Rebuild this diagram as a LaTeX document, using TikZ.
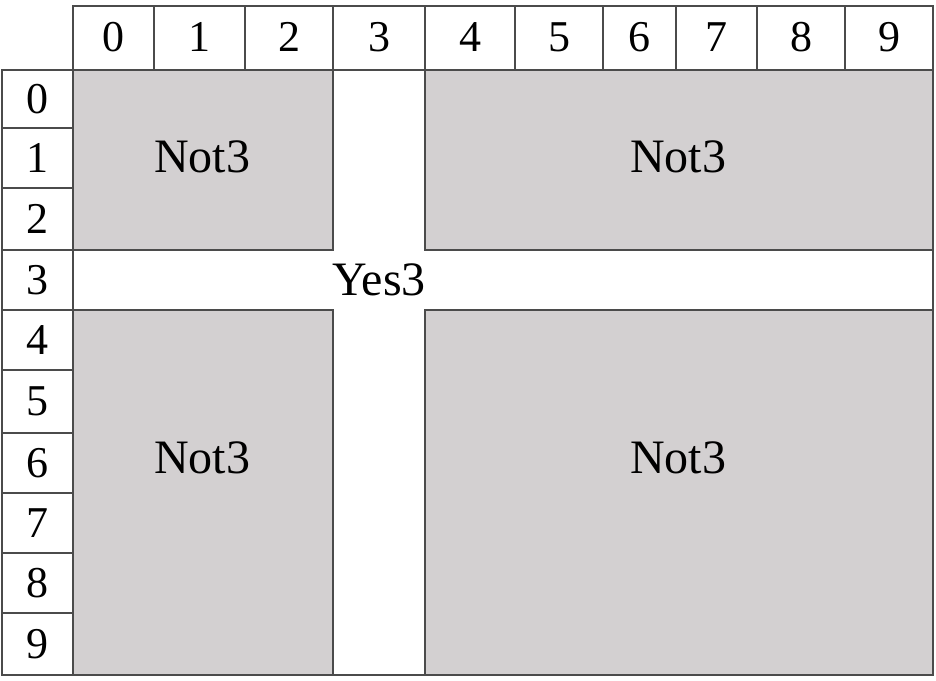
\documentclass[tikz,border=0pt]{standalone}
\usepackage{fontspec}
\setmainfont{Liberation Serif}

\definecolor{cellgray}{RGB}{211,208,209}
\definecolor{rulegray}{RGB}{75,75,75}

\tikzset{
  hdr/.style={draw=rulegray, line width=1.6pt, fill=white},
  blk/.style={draw=rulegray, line width=1.6pt, fill=cellgray},
  num/.style={font=\fontsize{44}{44}\selectfont, inner sep=0pt},
  lbl/.style={font=\fontsize{48}{48}\selectfont, inner sep=0pt}
}

\begin{document}
\begin{tikzpicture}[x=1pt,y=-1pt]
  \useasboundingbox (0,0) rectangle (936,680);

  % --- column headers (index / left / right) ---
  \foreach \c/\a/\b in {0/73/154,1/154/245,2/245/333,3/333/425,4/425/515,
                        5/515/603,6/603/676,7/676/757,8/757/845,9/845/933}{
    \draw[hdr] (\a,6) rectangle (\b,70);
    \node[num] (col\c) at ({(\a+\b)/2},37) {\c};
  }

  % --- row headers (index / top / bottom) ---
  \foreach \r/\a/\b in {0/70/128,1/128/188,2/188/250,3/250/310,4/310/370,
                        5/370/433,6/433/493,7/493/553,8/553/613,9/613/675}{
    \draw[hdr] (2,\a) rectangle (73,\b);
    \node[num] (row\r) at (37.5,{(\a+\b)/2}) {\r};
  }

  % --- body: white cross (row 3, column 3) ---
  \draw[hdr] (73,70) rectangle (933,675);

  % --- grey blocks ---
  \draw[blk] (73,70)   rectangle (333,250);
  \draw[blk] (425,70)  rectangle (933,250);
  \draw[blk] (73,310)  rectangle (333,675);
  \draw[blk] (425,310) rectangle (933,675);

  % --- labels ---
  \node[lbl] (notnw) at (202,157) {Not3};
  \node[lbl] (notne) at (678,157) {Not3};
  \node[lbl] (notsw) at (202,458) {Not3};
  \node[lbl] (notse) at (678,458) {Not3};
  \node[lbl] (yes)   at (379,280) {Yes3};
\end{tikzpicture}
\end{document}
